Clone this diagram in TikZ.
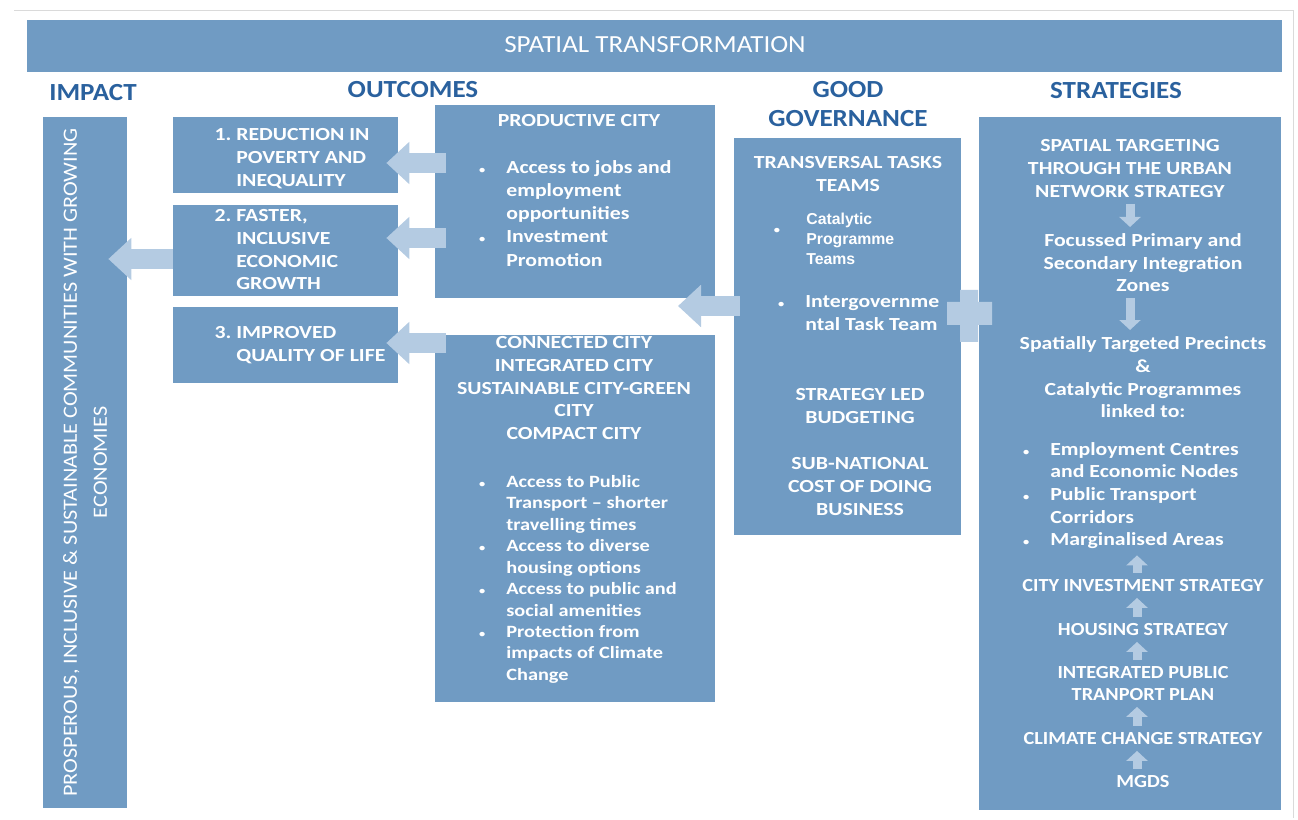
\documentclass[tikz,border=0pt]{standalone}
\usepackage{fontspec}
\setmainfont{Carlito}[FakeStretch=1.18]
\newfontfamily\widecaps{Carlito}[FakeStretch=1.1]
\newfontfamily\arialfont{Liberation Sans}
\usetikzlibrary{arrows.meta,positioning,fit,calc}
\definecolor{steel}{RGB}{112,155,195}
\definecolor{pale}{RGB}{180,203,226}
\definecolor{deep}{RGB}{42,97,158}
\definecolor{rim}{RGB}{218,218,218}
\newcommand{\dotmark}{{\fontsize{6}{6}\selectfont\textbullet}}
\newcommand{\bul}{\llap{\dotmark\hspace{12pt}}}
\tikzset{
  box/.style={fill=steel,inner sep=0pt},
  head/.style={text=deep,font=\widecaps\fontsize{14}{16}\selectfont\bfseries,align=center,inner sep=0pt},
  lbl/.style={text=white,font=\fontsize{10.5}{13}\selectfont\bfseries,align=center,inner sep=0pt,anchor=north},
  list/.style={lbl,align=left,anchor=north west},
  caps/.style={lbl,font=\widecaps\fontsize{10.5}{12.5}\selectfont\bfseries},
  barrow/.style={draw=pale,line width=0.4cm,-{Triangle[length=0.46cm,width=0.82cm]}},
  sarrow/.style={draw=pale,line width=0.18cm,-{Triangle[length=0.2cm,width=0.42cm]},
    shorten <=0.12cm,shorten >=0.12cm},
}

\begin{document}
\begin{tikzpicture}[x=0.02cm,y=-0.02cm]
  \useasboundingbox (0,0) rectangle (1298,820);
  \draw[rim] (14,10) -- (1293,10) -- (1293,818);
  \node[box,fit={(27,20) (1282,72)}] (band) {};
  \node[text=white,font=\widecaps\fontsize{14}{17}\selectfont,inner sep=0pt] (bandtxt) at (655,45) {SPATIAL TRANSFORMATION};
  \foreach \t/\x/\y [count=\i] in {IMPACT/93/93,OUTCOMES/413/90,{GOOD\\GOVERNANCE}/848/104,STRATEGIES/1116/91}
    \node[head] (hd\i) at (\x,\y) {\t};

  % impact
  \node[box,fit={(43,117) (127,808)}] (impact) {};
  \node[lbl,anchor=center,rotate=90,font=\widecaps\fontsize{11.5}{17}\selectfont] (imptxt) at (impact.center)
    {PROSPEROUS, INCLUSIVE \& SUSTAINABLE COMMUNITIES WITH GROWING\\ECONOMIES};

  % outcomes
  \foreach \a/\b [count=\i] in {117/193,205/296,307/383}
    \node[box,fit={(173,\a) (398,\b)}] (o\i) {};
  \node[list] (o1txt) at (236,128) {\llap{1.\ }REDUCTION IN\\POVERTY AND\\INEQUALITY};
  \node[list] (o2txt) at (236,209) {\llap{2.\ }FASTER,\\INCLUSIVE\\ECONOMIC\\GROWTH};
  \node[list] (o3txt) at (236,326) {\llap{3.\ }IMPROVED\\QUALITY OF LIFE};

  \node[box,fit={(435,105) (715,298)}] (prod) {};
  \node[lbl,anchor=center] (prodhd) at (579,121) {PRODUCTIVE CITY};
  \node[list,font=\fontsize{10.5}{13.2}\selectfont\bfseries] (prodls) at (506,160)
    {\bul Access to jobs and\\employment\\opportunities\\\bul Investment\\Promotion};

  \node[box,fit={(435,335) (715,702)}] (conn) {};
  \node[lbl] (connhd) at (574,336) {CONNECTED CITY\\INTEGRATED CITY\\SUSTAINABLE CITY-GREEN\\CITY\\COMPACT CITY};
  \node[list,font=\fontsize{9.8}{12.2}\selectfont\bfseries] (connls) at (506,475)
    {\bul Access to Public\\Transport -- shorter\\travelling times\\\bul Access to diverse\\housing options\\
     \bul Access to public and\\social amenities\\\bul Protection from\\impacts of Climate\\Change};

  % governance
  \node[box,fit={(734,138) (961,535)}] (gov) {};
  \node[lbl] (govhd) at (848,156) {TRANSVERSAL TASKS\\TEAMS};
  \node[lbl,anchor=center] (gb1) at (777,231) {\dotmark};
  \node[list,font=\arialfont\fontsize{9}{11.3}\selectfont\bfseries] (govls1) at (806,213) {Catalytic\\Programme\\Teams};
  \node[list] (govls2) at (805,295) {\bul Intergovernme\\ntal Task Team};
  \node[lbl] (govbud) at (860,388) {STRATEGY LED\\BUDGETING};
  \node[lbl] (govsub) at (860,457) {SUB-NATIONAL\\COST OF DOING\\BUSINESS};

  % strategies
  \node[box,fit={(979,117) (1281,810)}] (strat) {};
  \node[lbl] (s1) at (1130,139) {SPATIAL TARGETING\\THROUGH THE URBAN\\NETWORK STRATEGY};
  \node[lbl] (s2) at (1143,233) {Focussed Primary and\\Secondary Integration\\Zones};
  \node[lbl] (s3) at (1143,336) {Spatially Targeted Precincts\\\&\\Catalytic Programmes\\linked to:};
  \node[list,font=\fontsize{10.5}{12.9}\selectfont\bfseries] (s4) at (1050,442)
    {\bul Employment Centres\\and Economic Nodes\\\bul Public Transport\\Corridors\\\bul Marginalised Areas};
  \foreach \t/\y [count=\i from 5] in {CITY INVESTMENT STRATEGY/579,HOUSING STRATEGY/623,
      {INTEGRATED PUBLIC\\TRANPORT PLAN}/666,CLIMATE CHANGE STRATEGY/732,MGDS/775}
    \node[caps] (s\i) at (1143,\y) {\t};

  \draw[sarrow] (s1.south) -- (s1.south |- s2.north);
  \draw[sarrow] (s1.south |- s2.south) -- (s1.south |- s3.north);
  \foreach \a/\b in {5/4,6/5,7/6,8/7,9/8}
    \draw[sarrow] ([xshift=-0.12cm]s\a.north) -- ([xshift=-0.12cm]s\a.north |- s\b.south);

  % block arrows
  \foreach \y [count=\i] in {163,238,343} {
    \coordinate (r\i) at (0,\y);
    \draw[barrow,shorten <=-0.22cm,shorten >=-0.24cm] (prod.west |- r\i) -- (o\i.east |- r\i);
  }
  \coordinate (r4) at (0,259);
  \draw[barrow,shorten >=-0.38cm] (o2.west |- r4) -- (impact.east |- r4);
  \coordinate (gtip) at (678,306);
  \draw[barrow,shorten <=-0.12cm] (gov.west |- gtip) -- (gtip);
  \fill[pale] (947,302) rectangle (992,325) (960,290) rectangle (978,342);
\end{tikzpicture}
\end{document}
